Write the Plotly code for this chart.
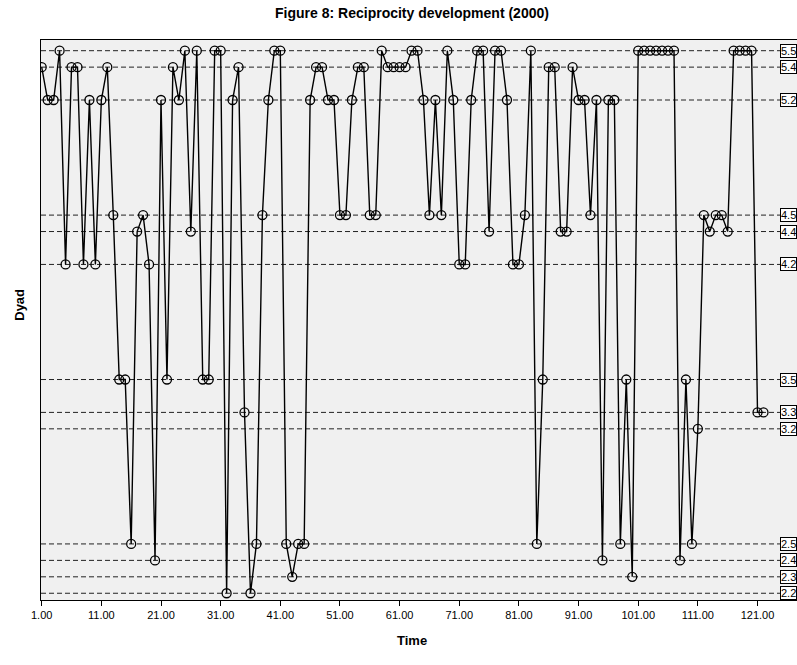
import plotly.graph_objects as go

# ---- data ----
time = list(range(1, 123))
dyad = [
    5.4, 5.2, 5.2, 5.5, 4.2, 5.4, 5.4, 4.2, 5.2, 4.2, 5.2, 5.4, 4.5, 3.5, 3.5, 2.5, 4.4, 4.5, 4.2, 2.4, 5.2,
    3.5, 5.4, 5.2, 5.5, 4.4, 5.5, 3.5, 3.5, 5.5, 5.5, 2.2, 5.2, 5.4, 3.3, 2.2, 2.5, 4.5, 5.2, 5.5, 5.5,
    2.5, 2.3, 2.5, 2.5, 5.2, 5.4, 5.4, 5.2, 5.2, 4.5, 4.5, 5.2, 5.4, 5.4, 4.5, 4.5, 5.5, 5.4, 5.4, 5.4,
    5.4, 5.5, 5.5, 5.2, 4.5, 5.2, 4.5, 5.5, 5.2, 4.2, 4.2, 5.2, 5.5, 5.5, 4.4, 5.5, 5.5, 5.2, 4.2, 4.2,
    4.5, 5.5, 2.5, 3.5, 5.4, 5.4, 4.4, 4.4, 5.4, 5.2, 5.2, 4.5, 5.2, 2.4, 5.2, 5.2, 2.5, 3.5, 2.3, 5.5,
    5.5, 5.5, 5.5, 5.5, 5.5, 5.5, 2.4, 3.5, 2.5, 3.2, 4.5, 4.4, 4.5, 4.5, 4.4, 5.5, 5.5, 5.5, 5.5, 3.3, 3.3,
]
ref_levels = [5.5, 5.4, 5.2, 4.5, 4.4, 4.2, 3.5, 3.3, 3.2, 2.5, 2.4, 2.3, 2.2]
ref_labels = ["5.5", "5.4", "5.2", "4.5", "4.4", "4.2", "3.5", "3.3", "3.2", "2.5", "2.4", "2.3", "2.2"]
tick_vals = [1, 11, 21, 31, 41, 51, 61, 71, 81, 91, 101, 111, 121]
tick_text = ["1.00", "11.00", "21.00", "31.00", "41.00", "51.00", "61.00",
             "71.00", "81.00", "91.00", "101.00", "111.00", "121.00"]

FONT = "Liberation Sans, Arial, sans-serif"
X_RANGE = [0.883, 127.62]
Y_RANGE = [2.159, 5.565]
LABEL_X = 124.8

fig = go.Figure()

# dashed reference lines
for lv in ref_levels:
    fig.add_shape(type="line", xref="x", yref="y", x0=X_RANGE[0], x1=LABEL_X, y0=lv, y1=lv,
                  line=dict(color="#222222", width=1, dash="5px,3px"), layer="below")

fig.add_trace(go.Scatter(
    x=time, y=dyad, mode="lines+markers",
    line=dict(color="black", width=1.4),
    marker=dict(symbol="circle-open", size=9, color="black", line=dict(width=1.3, color="black")),
    showlegend=False,
))

# right-side boxed labels
for lv, lab in zip(ref_levels, ref_labels):
    fig.add_annotation(x=LABEL_X, y=lv, xref="x", yref="y", text=lab, showarrow=False,
                       xanchor="left", yanchor="middle", font=dict(family=FONT, size=11, color="black"),
                       bgcolor="white", bordercolor="black", borderwidth=1, borderpad=0)

# axis titles
fig.add_annotation(x=(412 - 41) / 756, y=-0.055, xref="paper", yref="paper", text="<b>Time</b>",
                   showarrow=False, yanchor="top", font=dict(family=FONT, size=13, color="black"))
fig.add_annotation(x=-0.042, y=(600 - 305) / 560, xref="paper", yref="paper", text="<b>Dyad</b>",
                   showarrow=False, textangle=-90, font=dict(family=FONT, size=13, color="black"))

fig.update_layout(
    width=797, height=665,
    margin=dict(l=41, r=0, t=40, b=65),
    paper_bgcolor="white", plot_bgcolor="#f0f0f0",
    title=dict(text="<b>Figure 8: Reciprocity development (2000)</b>", xref="container", yref="container",
               x=412 / 797, xanchor="center", y=1 - 13 / 665, yanchor="middle",
               font=dict(family=FONT, size=14, color="black")),
    xaxis=dict(range=X_RANGE, tickvals=tick_vals, ticktext=tick_text, showgrid=False, zeroline=False,
               showline=True, linecolor="black", linewidth=1, mirror=True,
               ticks="outside", ticklen=5, tickcolor="black",
               tickfont=dict(family=FONT, size=11, color="black")),
    yaxis=dict(range=Y_RANGE, showticklabels=False, showgrid=False, zeroline=False,
               showline=True, linecolor="black", linewidth=1, ticks=""),
)

fig.write_html("out.html")
